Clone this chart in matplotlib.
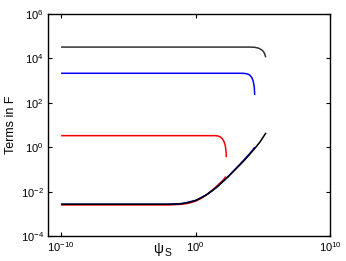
import numpy as np
import matplotlib
matplotlib.use("Agg")
import matplotlib.pyplot as plt
from matplotlib.ticker import NullLocator

# values, as log10(psi_S), log10(term)
black_top_lx = [-10, 4.0, 4.4, 4.7, 4.9, 5.05, 5.15, 5.22]
black_top_ly = [4.51, 4.51, 4.50, 4.46, 4.39, 4.31, 4.20, 4.05]

blue_top_lx = [-10, 3.4, 3.7, 3.9, 4.05, 4.2, 4.3, 4.37, 4.4]
blue_top_ly = [3.33, 3.33, 3.32, 3.29, 3.24, 3.12, 2.95, 2.70, 2.35]

red_top_lx = [-10, 1.4, 1.65, 1.85, 2.0, 2.12, 2.22, 2.27, 2.29]
red_top_ly = [0.52, 0.52, 0.51, 0.46, 0.38, 0.25, 0.05, -0.2, -0.45]

black_low_lx = [-10, -2, -1.5, -1, -0.5, 0, 0.4, 0.8, 1.2, 1.6, 2.0, 2.4, 2.8, 3.2, 3.6, 4.0, 4.4, 4.8, 5.24]
black_low_ly = [-2.57, -2.57, -2.56, -2.54, -2.49, -2.40, -2.29, -2.15, -1.98, -1.79, -1.57, -1.35, -1.10, -0.86, -0.61, -0.34, -0.06, 0.24, 0.65]

red_low_lx = [-10, -2, -1, -0.5, 0, 0.4, 0.8, 1.2, 1.6, 1.9, 2.1, 2.25]
red_low_ly = [-2.60, -2.60, -2.57, -2.52, -2.43, -2.31, -2.15, -1.96, -1.74, -1.57, -1.45, -1.32]

blue_low_lx = [-10, -2, -1, 0, 0.8, 1.6, 2.0, 2.5, 3.0, 3.5, 4.0, 4.3, 4.4]
blue_low_ly = [-2.57, -2.57, -2.54, -2.40, -2.15, -1.79, -1.56, -1.27, -0.96, -0.64, -0.31, -0.09, 0.00]

xticks = [1e-10, 1e0, 1e10]
yticks = [1e-4, 1e-2, 1e0, 1e2, 1e4, 1e6]

plt.rcParams['font.family'] = ['Liberation Sans', 'DejaVu Sans']
plt.rcParams['mathtext.fontset'] = 'custom'
plt.rcParams['mathtext.rm'] = 'Liberation Sans'
plt.rcParams['mathtext.it'] = 'Liberation Sans:italic'

fig = plt.figure(figsize=(3.46, 2.61), dpi=100)
ax = fig.add_axes([48/346, 1-236/261, 282/346, 222/261])

def p(lx, ly, c, lw=1.1):
    ax.plot(10.0**np.array(lx), 10.0**np.array(ly), color=c, lw=lw, solid_capstyle='butt')

p(black_top_lx, black_top_ly, '#333333')
p(blue_top_lx, blue_top_ly, 'blue')
p(red_top_lx, red_top_ly, 'red')
p(red_low_lx, red_low_ly, 'red')
p(blue_low_lx, blue_low_ly, 'blue')
p(black_low_lx, black_low_ly, 'black')

ax.set_xscale('log')
ax.set_yscale('log')
ax.set_xlim(10**-10.97, 1e10)
ax.set_ylim(1e-4, 1e6)
ax.set_xticks(xticks)
ax.set_yticks(yticks)
ax.xaxis.set_minor_locator(NullLocator())
ax.yaxis.set_minor_locator(NullLocator())
ax.tick_params(direction='in', top=True, right=True, length=3, width=0.8, labelsize=8, pad=3)
for s in ax.spines.values():
    s.set_linewidth(1.0)

ax.set_ylabel('Terms in F', fontsize=9, labelpad=3)
fig.text(158/346, 1-253/261, 'ψ', fontsize=10, ha='center', va='baseline')
fig.text(165/346, 1-256/261, 'S', fontsize=7.5, ha='left', va='baseline')

fig.savefig('out.png', dpi=100)
